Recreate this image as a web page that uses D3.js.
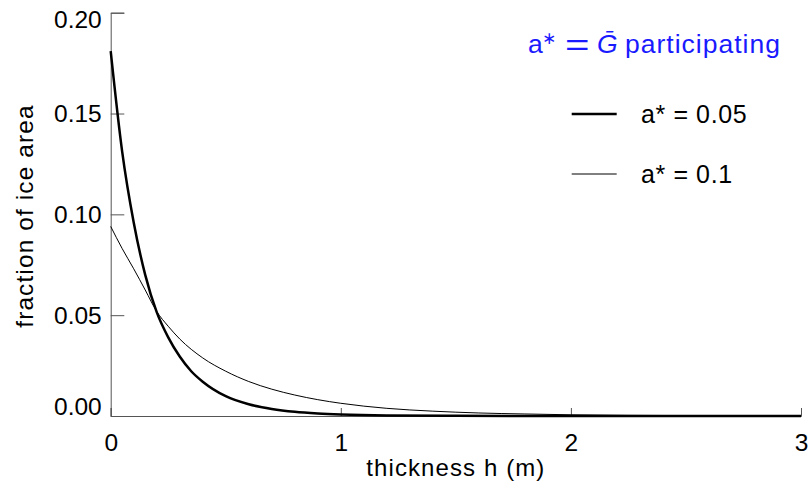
<!DOCTYPE html>
<html>
<head>
<meta charset="utf-8">
<script src="https://cdn.jsdelivr.net/npm/d3@7"></script>
<style>
  body { margin: 0; background: #fff; }
  svg { display: block; font-family: "Liberation Sans", Arial, sans-serif; }
</style>
</head>
<body>
<svg id="chart" width="811" height="484"></svg>
<script>
// thickness (m) and fraction of ice area
const hThick = [0, 0.05, 0.1, 0.15, 0.2, 0.25, 0.3, 0.35, 0.4, 0.5, 0.6, 0.7, 0.8, 0.9, 1.0, 1.2, 1.5, 2.0, 3.0];
const gThick = [0.181, 0.131, 0.096, 0.070, 0.0515, 0.039, 0.0295, 0.0222, 0.017, 0.0098, 0.0058, 0.0035, 0.0021, 0.0013, 0.0008, 0.0003, 0.0001, 0, 0];

const hThin = [0, 0.05, 0.1, 0.15, 0.2, 0.25, 0.3, 0.4, 0.5, 0.6, 0.7, 0.8, 0.9, 1.0, 1.2, 1.4, 1.6, 1.8, 2.0, 2.5, 3.0];
const gThin = [0.094, 0.083, 0.073, 0.0625, 0.0518, 0.0445, 0.0382, 0.0288, 0.0222, 0.0171, 0.0133, 0.0104, 0.0081, 0.0063, 0.0038, 0.0024, 0.0015, 0.001, 0.0006, 0.0002, 0.0001];

const xTicks = [0, 1, 2, 3];
const yTicks = [0, 0.05, 0.10, 0.15, 0.20];
const legendLabels = ['a* = 0.05', 'a* = 0.1'];

const svg = d3.select('#chart');

// Scales (pixel positions)
const x = d3.scaleLinear().domain([0, 3]).range([110.7, 801]);
const y = d3.scaleLinear().domain([0, 0.2]).range([416, 12.7]);

const axisColor = '#555';

// X axis: major and minor ticks pointing up
const gx = svg.append('g').attr('transform', `translate(0,${y(0)})`);
gx.call(d3.axisBottom(x).tickValues(d3.range(0, 3.001, 0.1)).tickSize(-4).tickFormat(''));
gx.call(d3.axisBottom(x).tickValues(xTicks).tickSize(-8).tickPadding(18).tickFormat(d3.format('d')));

// Y axis: ticks pointing right
const gy = svg.append('g').attr('transform', `translate(${x(0)},0)`);
gy.call(d3.axisLeft(y).tickValues(d3.range(0, 0.2001, 0.01)).tickSize(-7).tickFormat(''));
gy.call(d3.axisLeft(y).tickValues(yTicks).tickSize(-13.6).tickPadding(9).tickFormat(d3.format('.2f')));

svg.selectAll('.domain').attr('stroke', axisColor).attr('stroke-width', 1);
svg.selectAll('.tick line').attr('stroke', axisColor).attr('stroke-width', 1);
svg.selectAll('.tick text')
    .attr('font-size', 24.5)
    .attr('font-family', '"Liberation Sans", Arial, sans-serif')
    .attr('fill', '#000');
// end labels on the y axis are nudged inward
gy.selectAll('.tick text').attr('dy', d => d === 0.2 ? '0.62em' : d === 0 ? '-0.05em' : '0.34em');

// Curves
const line = d3.line().curve(d3.curveMonotoneX);

svg.append('path')
    .datum(hThin.map((h, i) => [x(h), y(gThin[i])]))
    .attr('d', line)
    .attr('fill', 'none')
    .attr('stroke', '#000')
    .attr('stroke-width', 1);

svg.append('path')
    .datum(hThick.map((h, i) => [x(h), y(gThick[i])]))
    .attr('d', line)
    .attr('fill', 'none')
    .attr('stroke', '#000')
    .attr('stroke-width', 2.5);

// Axis titles
svg.append('text')
    .attr('x', (x(0) + x(3)) / 2)
    .attr('y', 476)
    .attr('text-anchor', 'middle')
    .attr('font-size', 24)
    .attr('letter-spacing', 1.1)
    .text('thickness h (m)');

svg.append('text')
    .attr('transform', 'translate(33,216) rotate(-90)')
    .attr('text-anchor', 'middle')
    .attr('font-size', 24.5)
    .attr('letter-spacing', 1.1)
    .text('fraction of ice area');

// Title in blue
const blue = '#1a1aff';
const title = svg.append('text')
    .attr('y', 53)
    .attr('font-size', 26.5)
    .attr('fill', blue);
title.append('tspan').attr('x', 528).text('a');
title.append('tspan').attr('x', 542).attr('dy', -9).attr('font-size', 17)
    .attr('font-family', '"DejaVu Sans", sans-serif').text('\u2217');
title.append('tspan').attr('x', 597).attr('dy', 9).attr('font-style', 'italic').text('\u1E20');
title.append('tspan').attr('x', 625).attr('letter-spacing', 1).text('participating');
// wide math-style equals sign
svg.append('text')
    .attr('transform', 'translate(565,55) scale(1.4,1)')
    .attr('font-size', 30)
    .attr('fill', blue)
    .text('=');

// Legend
const legend = svg.append('g');
[[114, 2.5], [174, 1]].forEach(([ly, sw], i) => {
    legend.append('line')
        .attr('x1', 571.7).attr('x2', 616.7)
        .attr('y1', ly).attr('y2', ly)
        .attr('stroke', '#000')
        .attr('stroke-width', sw);
    legend.append('text')
        .attr('x', 641)
        .attr('y', ly + 9)
        .attr('font-size', 25)
        .attr('letter-spacing', 0.6)
        .text(legendLabels[i]);
});
</script>
</body>
</html>
